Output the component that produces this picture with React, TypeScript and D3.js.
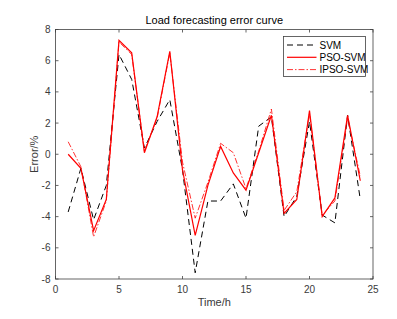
import * as d3 from 'd3';

const hours = [1, 2, 3, 4, 5, 6, 7, 8, 9, 10, 11, 12, 13, 14, 15, 16, 17, 18, 19, 20, 21, 22, 23, 24];
const svmErr = [-3.7, -0.9, -4.2, -2.0, 6.4, 4.8, 0.4, 2.1, 3.5, -1.0, -7.6, -3.0, -3.0, -1.9, -4.1, 1.8, 2.4, -4.0, -2.7, 2.1, -3.9, -4.4, 2.5, -2.9];
const psoErr = [0.0, -0.9, -4.9, -2.9, 7.3, 6.5, 0.1, 2.4, 6.6, -1.0, -5.2, -2.0, 0.5, -1.2, -2.3, 0.1, 2.5, -3.8, -2.9, 2.8, -4.0, -2.8, 2.5, -1.7];
const ipsoErr = [0.8, -0.8, -5.3, -3.0, 7.2, 6.4, 0.2, 2.3, 6.5, -0.5, -4.1, -1.8, 0.7, 0.1, -2.2, 0.2, 2.9, -3.6, -2.4, 2.6, -3.9, -3.0, 2.3, -1.4];
const xTicks = [0, 5, 10, 15, 20, 25];
const yTicks = [-8, -6, -4, -2, 0, 2, 4, 6, 8];

const W = 397;
const H = 319;
const left = 55.5;
const right = 373;
const top = 29.5;
const bottom = 279;
const axisColor = '#404040';
const labelColor = '#3a3a3a';
const font = 'Arial, "Liberation Sans", Helvetica, sans-serif';

const series = [
  { name: 'SVM', values: svmErr, color: '#000000', width: 1, dash: '6,4' },
  { name: 'PSO-SVM', values: psoErr, color: '#ff0000', width: 1.2, dash: '' },
  { name: 'IPSO-SVM', values: ipsoErr, color: '#ff0000', width: 0.8, dash: '6,2,1.5,2' },
];

export default function App() {
  const x = d3.scaleLinear().domain([0, 25]).range([left, right]);
  const y = d3.scaleLinear().domain([-8, 8]).range([bottom, top]);
  const line = d3
    .line<number>()
    .x((_, i) => x(hours[i]))
    .y(d => y(d));

  const tick = 3;
  const legX = 283.5;
  const legY = 36.5;

  return (
    <svg
      width={W}
      height={H}
      style={{ position: 'absolute', left: 0, top: 0, background: '#fff' }}
      fontFamily={font}
    >
      <rect x={0} y={0} width={W} height={H} fill="#fff" />

      {/* data lines */}
      <g>
        {series.map(s => (
          <path
            key={s.name}
            d={line(s.values) || ''}
            fill="none"
            stroke={s.color}
            strokeWidth={s.width}
            strokeDasharray={s.dash || undefined}
          />
        ))}
      </g>

      {/* axes box */}
      <rect x={left} y={top} width={right - left} height={bottom - top} fill="none" stroke={axisColor} strokeWidth={0.8} />
      {xTicks.map(t => (
        <g key={'x' + t}>
          <line x1={x(t)} x2={x(t)} y1={bottom} y2={bottom - tick} stroke={axisColor} strokeWidth={0.8} />
          <line x1={x(t)} x2={x(t)} y1={top} y2={top + tick} stroke={axisColor} strokeWidth={0.8} />
          <text x={x(t)} y={bottom + 14} textAnchor="middle" fontSize={10} fill={labelColor}>
            {t}
          </text>
        </g>
      ))}
      {yTicks.map(t => (
        <g key={'y' + t}>
          <line x1={left} x2={left + tick} y1={y(t)} y2={y(t)} stroke={axisColor} strokeWidth={0.8} />
          <line x1={right} x2={right - tick} y1={y(t)} y2={y(t)} stroke={axisColor} strokeWidth={0.8} />
          <text x={left - 5} y={y(t) + 3.5} textAnchor="end" fontSize={10} fill={labelColor}>
            {t}
          </text>
        </g>
      ))}

      {/* title and labels */}
      <text x={(left + right) / 2} y={24} textAnchor="middle" fontSize={11} fill="#000">
        Load forecasting error curve
      </text>
      <text x={(left + right) / 2} y={306} textAnchor="middle" fontSize={11} fill={labelColor}>
        Time/h
      </text>
      <text
        transform={`translate(38,${(top + bottom) / 2}) rotate(-90)`}
        textAnchor="middle"
        fontSize={11}
        fill={labelColor}
      >
        Error/%
      </text>

      {/* legend */}
      <rect x={legX} y={legY} width={82} height={40} fill="#fff" stroke={axisColor} strokeWidth={0.8} />
      {series.map((s, i) => {
        const ly = legY + 8.5 + i * 12.3;
        return (
          <g key={'leg' + s.name}>
            <line
              x1={legX + 3.5}
              x2={legX + 33}
              y1={ly}
              y2={ly}
              stroke={s.color}
              strokeWidth={s.width}
              strokeDasharray={s.dash || undefined}
            />
            <text x={legX + 36} y={ly + 3.5} fontSize={10} fill="#000">
              {s.name}
            </text>
          </g>
        );
      })}
    </svg>
  );
}
